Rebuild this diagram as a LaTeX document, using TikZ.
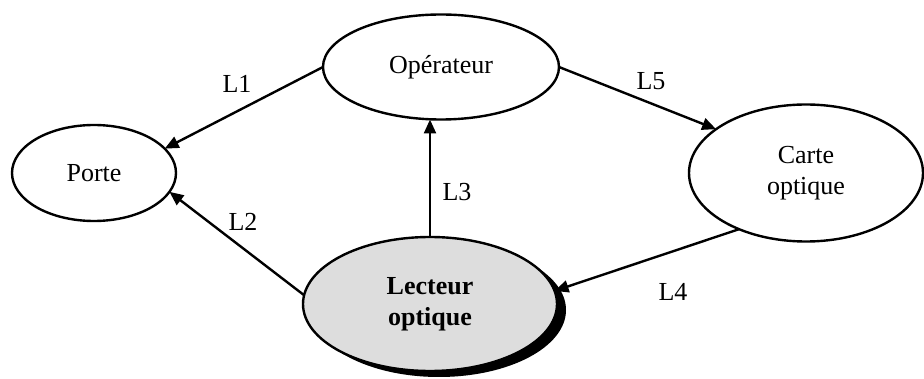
\documentclass[tikz,border=0pt]{standalone}
\usepackage{fontspec}
\setmainfont{Liberation Serif}
\usetikzlibrary{shapes.geometric,arrows.meta,shadows}
\definecolor{lectfill}{RGB}{221,221,221}
\tikzset{
  ent/.style={ellipse,draw=black,line width=2.4pt,inner sep=0pt,outer sep=0pt,
    align=center,font=\fontsize{26}{31}\selectfont},
  conn/.style={line width=2.4pt,-{Triangle[length=14pt,width=12pt]}},
  lab/.style={inner sep=0pt,font=\fontsize{26}{31}\selectfont}
}
\begin{document}
\begin{tikzpicture}[x=1pt,y=-1pt]
\useasboundingbox (0,0) rectangle (924,379);
\node[ent,minimum width=164pt,minimum height=96pt] (porte) at (94,173) {Porte};
\node[ent,minimum width=236pt,minimum height=105pt] (op) at (441,67) {Opérateur};
\node[ent,minimum width=234pt,minimum height=137pt] (carte) at (806,173) {Carte\\optique};
\node[ent,fill=lectfill,minimum width=254pt,minimum height=134pt,
  drop shadow={shadow xshift=9pt,shadow yshift=-6pt,fill=black,opacity=1},
  font=\fontsize{26}{31}\selectfont\bfseries] (lect) at (430,304) {Lecteur\\optique};
\draw[conn] (op.west) -- (porte.19);
\draw[conn] (lect.176) -- (porte.-14);
\draw[conn] (lect.north) -- (lect.north |- op.south);
\draw[conn] (carte.220) -- (lect.6);
\draw[conn] (op.east) -- (carte.154);
\node[lab] (l1) at (237,84) {L1};
\node[lab] (l2) at (243,222) {L2};
\node[lab] (l3) at (457,192) {L3};
\node[lab] (l4) at (673,292) {L4};
\node[lab] (l5) at (651,81) {L5};
\end{tikzpicture}
\end{document}
